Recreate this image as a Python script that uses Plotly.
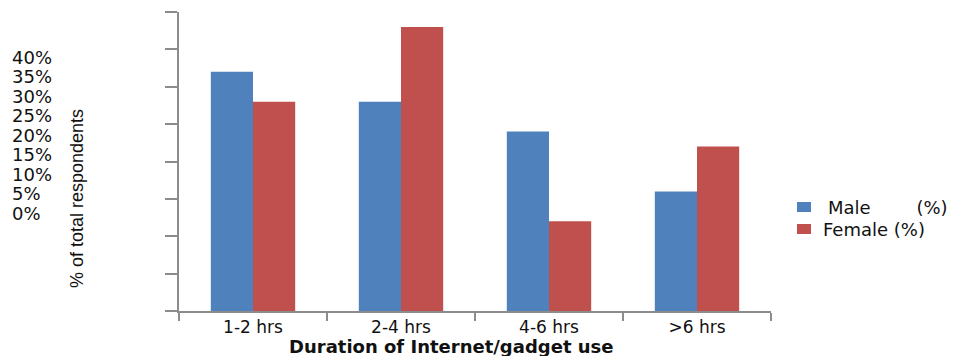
import plotly.graph_objects as go

# Share of respondents by daily duration of internet/gadget use
durations = ["1-2 hrs", "2-4 hrs", "4-6 hrs", ">6 hrs"]
male_pct = [32, 28, 24, 16]
female_pct = [28, 38, 12, 22]
pct_labels = ["40%", "35%", "30%", "25%", "20%", "15%", "10%", "5%", "0%"]
series_names = ["Male\u00a0\u00a0\u00a0\u00a0\u00a0\u00a0\u00a0\u00a0(%)", "Female (%)"]

BLUE = "#4F81BD"
RED = "#C0504D"
AXIS = "#8C8C8C"
INK = "#111111"
FONT = "DejaVu Sans"

W, H = 953, 356
L, R, T, B = 179, 182, 12, 45
plot_w, plot_h = W - L - R, H - T - B


def px_x(x):
    return (x - L) / plot_w


def px_y(y):
    return (H - B - y) / plot_h


fig = go.Figure()
fig.add_trace(go.Bar(x=durations, y=male_pct, name=series_names[0],
                     marker=dict(color=BLUE, line=dict(width=0))))
fig.add_trace(go.Bar(x=durations, y=female_pct, name=series_names[1],
                     marker=dict(color=RED, line=dict(width=0))))

annotations = []
shapes = []

# percentage column on the left
for i, lab in enumerate(pct_labels):
    annotations.append(dict(
        text=lab, xref="paper", yref="paper", x=px_x(10), y=px_y(57 + i * 19.5),
        xanchor="left", yanchor="middle", showarrow=False,
        font=dict(family=FONT, size=18, color=INK)))

annotations.append(dict(
    text="% of total respondents", xref="paper", yref="paper",
    x=px_x(77), y=px_y(199), textangle=-90, showarrow=False,
    xanchor="center", yanchor="middle",
    font=dict(family="Liberation Sans", size=18, color=INK)))

annotations.append(dict(
    text="<b>Duration of Internet/gadget use</b>", xref="paper", yref="paper",
    x=px_x(451), y=px_y(346), showarrow=False, xanchor="center", yanchor="middle",
    font=dict(family=FONT, size=18, color=INK)))

# legend: colour key plus series names
legend_rows = [(207, 826, BLUE), (229, 821, RED)]
for (cy, tx, col), name in zip(legend_rows, series_names):
    shapes.append(dict(type="rect", xref="paper", yref="paper",
                       x0=px_x(797), x1=px_x(811), y0=px_y(cy - 5), y1=px_y(cy + 5),
                       fillcolor=col, line=dict(width=0)))
    annotations.append(dict(
        text=name, xref="paper", yref="paper", x=px_x(tx), y=px_y(cy),
        xanchor="left", yanchor="middle", showarrow=False,
        font=dict(family=FONT, size=18, color=INK)))

fig.update_layout(
    width=W, height=H,
    margin=dict(l=L, r=R, t=T, b=B, pad=0, autoexpand=False),
    paper_bgcolor="white", plot_bgcolor="white",
    barmode="group", bargap=0.43, bargroupgap=0,
    showlegend=False,
    annotations=annotations,
    shapes=shapes,
    xaxis=dict(
        type="category", tickson="boundaries", ticks="outside", ticklen=8,
        tickwidth=2, tickcolor=AXIS, showline=True, linecolor=AXIS, linewidth=2,
        showgrid=False, zeroline=False,
        tickfont=dict(family=FONT, size=17, color=INK),
    ),
    yaxis=dict(
        range=[0, 40], dtick=5, ticks="outside", ticklen=12, tickwidth=2,
        tickcolor=AXIS, showline=True, linecolor=AXIS, linewidth=2,
        showgrid=False, zeroline=False, showticklabels=False,
    ),
)

fig.write_html("out.html")
